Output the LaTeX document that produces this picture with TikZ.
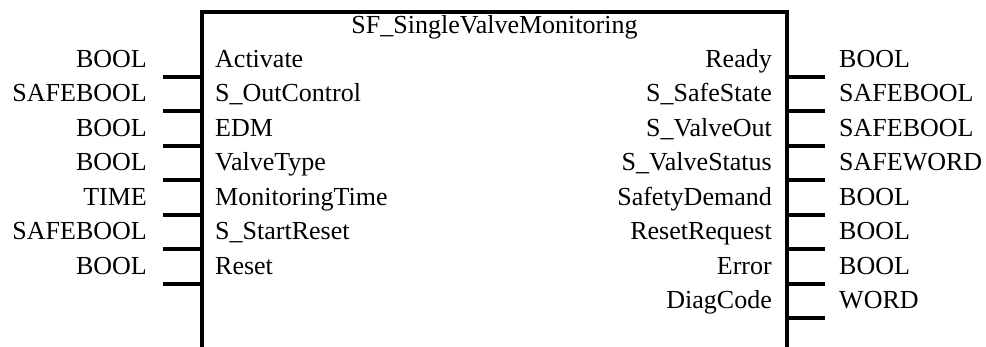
\documentclass[tikz,border=0pt]{standalone}
\usepackage{fontspec}
\setmainfont{Liberation Serif}
\begin{document}
\begin{tikzpicture}[x=1pt,y=-1pt,
  lbl/.style={inner sep=0pt,font=\fontsize{26}{30}\selectfont},
  pin/.style={line width=4pt},
  boxline/.style={line width=4.5pt,line join=miter}]
\useasboundingbox (0,0) rectangle (986,347);
% box
\coordinate (bl) at (202,347);
\coordinate (tl) at (202,12);
\coordinate (tr) at (787,12);
\coordinate (br) at (787,347);
\draw[boxline] (bl) -- (tl) -- (tr) -- (br);
\node[lbl,anchor=base] (title) at (494.5,34) {SF\_SingleValveMonitoring};
% inputs
\foreach \i/\nm/\ty in {0/Activate/BOOL,1/S\_OutControl/SAFEBOOL,2/EDM/BOOL,3/ValveType/BOOL,4/MonitoringTime/TIME,5/S\_StartReset/SAFEBOOL,6/Reset/BOOL}{
  \node[lbl,anchor=base west] (in\i) at (215,67.5+34.5*\i) {\nm};
  \node[lbl,anchor=base east] (it\i) at (147,67.5+34.5*\i) {\ty};
  \coordinate (ip\i) at (163,77+34.5*\i);
  \coordinate (iq\i) at (202,77+34.5*\i);
  \draw[pin] (ip\i) -- (iq\i);
}
% outputs
\foreach \i/\nm/\ty in {0/Ready/BOOL,1/S\_SafeState/SAFEBOOL,2/S\_ValveOut/SAFEBOOL,3/S\_ValveStatus/SAFEWORD,4/SafetyDemand/BOOL,5/ResetRequest/BOOL,6/Error/BOOL,7/DiagCode/WORD}{
  \node[lbl,anchor=base east] (on\i) at (772,67.5+34.5*\i) {\nm};
  \node[lbl,anchor=base west] (ot\i) at (839,67.5+34.5*\i) {\ty};
  \coordinate (op\i) at (787,77+34.5*\i);
  \coordinate (oq\i) at (825,77+34.5*\i);
  \draw[pin] (op\i) -- (oq\i);
}
\end{tikzpicture}
\end{document}
